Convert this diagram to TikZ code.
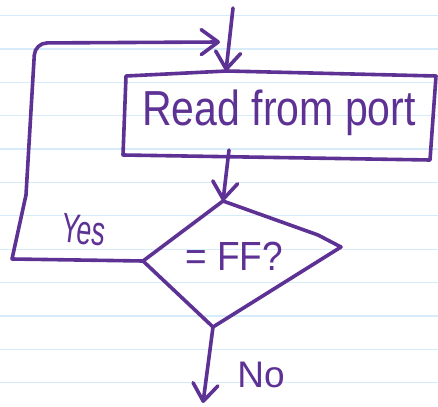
\documentclass[tikz,border=0pt]{standalone}
\usepackage{fontspec}
\usepackage{graphicx}
\setmainfont{Liberation Sans}
\usetikzlibrary{arrows.meta}
\definecolor{ink}{RGB}{94,50,148}
\definecolor{rule}{RGB}{214,236,250}
\begin{document}
\begin{tikzpicture}[x=1pt,y=-1pt,line cap=round,line join=round,
  pen/.style={draw=ink,line width=3.6pt},
  arr/.style={pen,-{Straight Barb[length=17pt,width=25pt,round]}},
  hand/.style={text=ink,inner sep=0pt}]
% sheet of ruled paper
\fill[white] (0,0) rectangle (438,406);
\useasboundingbox (0,0) rectangle (438,406);
\foreach \k in {0,...,11}
  \draw[rule,line width=1.3pt] (0,{15.7+33.35*\k}) -- (438,{15.7+33.35*\k});

% process box
\coordinate (b1) at (126,76);
\coordinate (btop) at (227,71);
\coordinate (b2) at (436,76);
\coordinate (b3) at (430,160);
\coordinate (b4) at (123,155);
\draw[pen] (b1) -- (btop) -- (b2) -- (b3) -- (b4) -- cycle;
\node[hand,anchor=base,font=\fontsize{41}{41}\selectfont] (read) at (279,125)
  {\scalebox{1}[1.2]{Read from port}};

% decision diamond
\coordinate (dt) at (223,201);
\coordinate (dr) at (341,247);
\coordinate (db) at (213,327);
\coordinate (dl) at (143,261);
\draw[pen] (dt) -- (318,235) -- (dr) -- (db) -- (dl) -- cycle;
\node[hand,anchor=base,font=\fontsize{37}{37}\selectfont] (test) at (234,270)
  {\scalebox{1}[1.1]{= FF?}};

% connectors
\coordinate (entry) at (233,8);
\coordinate (boxin) at (226,71);
\coordinate (boxout) at (229,150);
\coordinate (loopin) at (220,42);
\coordinate (exit) at (203,403);
\draw[arr] (entry) -- (boxin);
\draw[arr] (boxout) -- (dt);
\draw[arr] (dl) -- (12,259) -- (26,195) [rounded corners=12pt] -- (35,43) -- (loopin);
\draw[arr] (db) -- (exit);

% branch labels
\node[hand,rotate=-7,font=\fontsize{36}{36}\selectfont] (yes) at (84,230)
  {\scalebox{0.75}[1.15]{Yes}};
\node[hand,anchor=base,font=\fontsize{37}{37}\selectfont] (no) at (261,387) {No};
\end{tikzpicture}
\end{document}
